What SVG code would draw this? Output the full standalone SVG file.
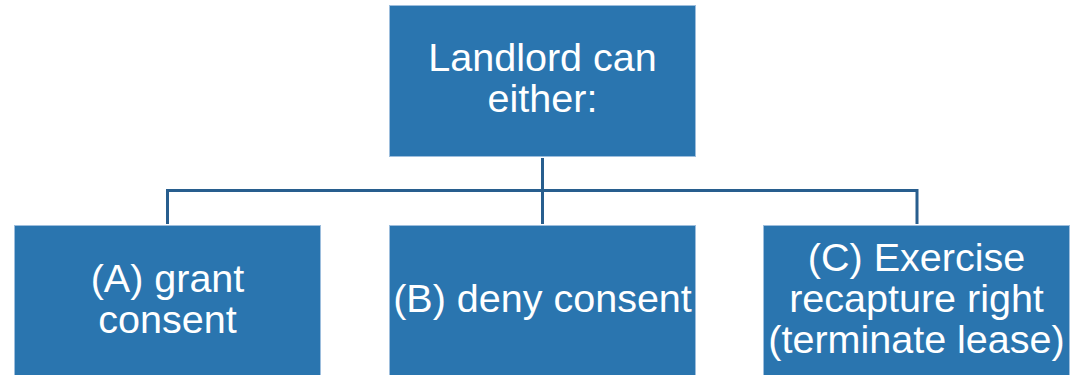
<svg xmlns="http://www.w3.org/2000/svg" width="1073" height="375" viewBox="0 0 1073 375">
<style>
.box{fill:#2A75AF;stroke:#9DBEDD;stroke-width:1}
.t{font-family:"Liberation Sans",Arial,sans-serif;font-size:39.5px;fill:#FFFFFF;text-anchor:middle}
.c{stroke:#285E8E;stroke-width:3;fill:none}
</style>
<rect width="1073" height="375" fill="#FFFFFF"/>
<g id="connectors">
<path class="c" d="M542.5,158 V190.5 M167.5,224 V190.5 H917 V224 M542.5,190.5 V224"/>
</g>
<g id="root">
<rect class="box" x="389.5" y="5.5" width="306" height="151"/>
<text class="t" x="542.5" y="71">Landlord can</text>
<text class="t" x="542.5" y="112">either:</text>
</g>
<g id="nodeA">
<rect class="box" x="14.5" y="225.5" width="306" height="151"/>
<text class="t" x="167.5" y="292">(A) grant</text>
<text class="t" x="167.5" y="333">consent</text>
</g>
<g id="nodeB">
<rect class="box" x="389.5" y="225.5" width="306" height="151"/>
<text class="t" x="542.5" y="312">(B) deny consent</text>
</g>
<g id="nodeC">
<rect class="box" x="763.5" y="225.5" width="306" height="151"/>
<text class="t" x="916.5" y="271">(C) Exercise</text>
<text class="t" x="916.5" y="312">recapture right</text>
<text class="t" x="916.5" y="353">(terminate lease)</text>
</g>
</svg>
